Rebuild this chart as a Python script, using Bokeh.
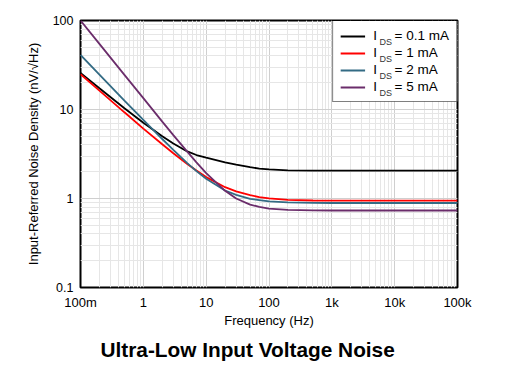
from bokeh.plotting import figure
from bokeh.models import (Range1d, FixedTicker, CustomJSTickFormatter, Legend,
                          LegendItem, Title, BoxAnnotation)
from bokeh.core.properties import value
from bokeh.embed import file_html
from bokeh.resources import INLINE
import math

# ---- data ----
freq_hz = [0.1, 0.2, 0.5, 1, 2, 3, 5, 7, 10, 20, 30, 50, 70, 100, 200, 500,
           1000, 10000, 100000]
noise_0p1mA = [25.8, 17.3, 10.35, 7.1, 5.0, 4.15, 3.38, 3.08, 2.88, 2.55, 2.4,
               2.25, 2.17, 2.12, 2.07, 2.06, 2.06, 2.06, 2.06]
noise_1mA = [24.9, 16.3, 9.3, 6.1, 4.07, 3.23, 2.44, 2.06, 1.74, 1.34, 1.2,
             1.09, 1.039, 1.005, 0.967, 0.95, 0.945, 0.945, 0.945]
noise_2mA = [41, 24.7, 12.6, 7.65, 4.66, 3.52, 2.5, 2.03, 1.67, 1.23, 1.1,
             0.99, 0.96, 0.93, 0.905, 0.894, 0.89, 0.89, 0.89]
noise_5mA = [100, 54.6, 24.5, 13.4, 7.3, 5.15, 3.36, 2.55, 1.93, 1.22, 1.0,
             0.855, 0.805, 0.77, 0.745, 0.735, 0.733, 0.733, 0.733]

GAP = "\u2007\u2007\u2009"
series_labels = ["I" + GAP + "= 0.1 mA", "I" + GAP + "= 1 mA",
                 "I" + GAP + "= 2 mA", "I" + GAP + "= 5 mA"]
series_colors = ["#000000", "#FF0000", "#336B84", "#6B2D6B"]

x_ticks = [0.1, 1, 10, 100, 1000, 10000, 100000]
x_tick_labels = ["100m", "1", "10", "100", "1k", "10k", "100k"]
y_ticks = [0.1, 1, 10, 100]
y_tick_labels = ["0.1", "1", "10", "100"]

FONT = "Liberation Sans"
X0, X1, Y0, Y1 = 0.1, 100000, 0.1, 100
FW, FH = 377, 267

p = figure(x_axis_type="log", y_axis_type="log",
           x_range=Range1d(X0, X1), y_range=Range1d(Y0, Y1),
           frame_width=FW, frame_height=FH,
           min_border_left=80, min_border_right=38, min_border_top=20,
           min_border_bottom=4,
           output_backend="svg", toolbar_location=None, title=None)

p.outline_line_color = "black"
p.outline_line_width = 2
p.background_fill_color = "white"
p.border_fill_color = "white"

minor_x = [m * 10.0 ** e for e in range(-1, 5) for m in range(2, 10)]
minor_y = [m * 10.0 ** e for e in range(-1, 2) for m in range(2, 10)]
p.xaxis.ticker = FixedTicker(ticks=x_ticks, minor_ticks=minor_x)
p.yaxis.ticker = FixedTicker(ticks=y_ticks, minor_ticks=minor_y)
p.xgrid.ticker = p.xaxis.ticker
p.ygrid.ticker = p.yaxis.ticker

code = """
let best = 0, bd = Infinity;
for (let i = 0; i < tvals.length; i++) {
  const d = Math.abs(Math.log10(tick) - Math.log10(tvals[i]));
  if (d < bd) { bd = d; best = i; }
}
return tlabels[best];
"""
p.xaxis.formatter = CustomJSTickFormatter(args=dict(tvals=x_ticks, tlabels=x_tick_labels), code=code)
p.yaxis.formatter = CustomJSTickFormatter(args=dict(tvals=y_ticks, tlabels=y_tick_labels), code=code)

for ax in (p.xaxis, p.yaxis):
    ax.axis_line_color = None
    ax.major_tick_line_color = None
    ax.minor_tick_line_color = None
    ax.major_tick_in = 0
    ax.major_tick_out = 0
    ax.minor_tick_in = 0
    ax.minor_tick_out = 0
    ax.major_label_text_font = FONT
    ax.major_label_text_color = "black"
    ax.axis_label_text_font = FONT
    ax.axis_label_text_font_size = "13px"
    ax.axis_label_text_font_style = "normal"
    ax.axis_label_text_color = "black"

p.xaxis.major_label_text_font_size = "13px"
p.yaxis.major_label_text_font_size = "12.5px"
p.xaxis.major_label_standoff = 7
p.yaxis.major_label_standoff = 7
p.xaxis.axis_label = "Frequency (Hz)"
p.yaxis.axis_label = "Input-Referred Noise Density (nV/\u221aHz)"
p.xaxis.axis_label_standoff = 0
p.yaxis.axis_label_standoff = 9

for g in (p.xgrid, p.ygrid):
    g.grid_line_color = "#cfcfcf"
    g.grid_line_width = 1
    g.minor_grid_line_color = "#e6e6e6"
    g.minor_grid_line_width = 1


def px_to_data(px, py):
    """pixel offset inside the plot frame (from top-left) -> data coords"""
    lx = math.log10(X0) + px / FW * (math.log10(X1) - math.log10(X0))
    ly = math.log10(Y1) - py / FH * (math.log10(Y1) - math.log10(Y0))
    return 10 ** lx, 10 ** ly


# white backing for the legend box (drawn above the grid, below everything else)
bl, bt = px_to_data(251.5, 0.5)
br, bb = px_to_data(377, 81)
p.add_layout(BoxAnnotation(left=bl, right=br, top=bt, bottom=bb,
                           fill_color="white", fill_alpha=1, line_color=None,
                           level="underlay"))

renderers = []
for ys, c in zip([noise_0p1mA, noise_1mA, noise_2mA, noise_5mA], series_colors):
    r = p.line(freq_hz, ys, line_color=c, line_width=1.8)
    renderers.append(r)

# subscripts "DS" for the legend labels
sub_pos = [px_to_data(299.0, 21.5 + i * 17.0) for i in range(4)]
p.text(x=[s[0] for s in sub_pos], y=[s[1] for s in sub_pos],
       text=["DS"] * 4, text_font=value(FONT), text_font_size="9px",
       text_color="#333333", text_baseline="alphabetic")

legend = Legend(items=[LegendItem(label=lab, renderers=[r])
                       for lab, r in zip(series_labels, renderers)],
                location="top_right", margin=0, padding=7, spacing=2,
                glyph_width=25, glyph_height=14, label_height=14,
                label_standoff=8, label_text_font=FONT,
                label_text_font_size="13.5px", label_text_color="black",
                border_line_color="black", border_line_width=1,
                background_fill_alpha=0)
p.add_layout(legend)

p.add_layout(Title(text="Ultra-Low Input Voltage Noise", align="left", offset=20,
                   text_font=FONT, text_font_size="20.8px", text_font_style="bold",
                   text_color="black", standoff=10), "below")

open("out.html", "w").write(file_html(p, INLINE))
